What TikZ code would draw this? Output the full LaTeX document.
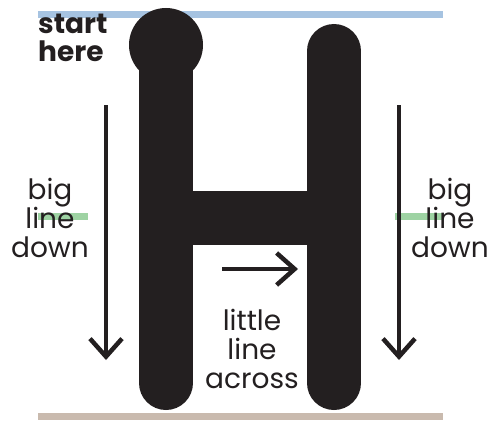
\documentclass[tikz,border=0pt]{standalone}
\usepackage{fontspec}
\setmainfont{Poppins}
\usetikzlibrary{arrows.meta,positioning}
\definecolor{inkblack}{HTML}{231F20}
\definecolor{topblue}{HTML}{A6C3E1}
\definecolor{midgreen}{HTML}{9ED3A3}
\definecolor{basebeige}{HTML}{C9BAAE}
\tikzstyle{guide} = [line width=7pt]
\tikzstyle{bigstroke} = [line width=54pt, draw=inkblack]
\tikzstyle{arrow} = [
    -{Straight Barb[length=18pt, width=32pt, line width=4.5pt]},
    line width=4.5pt,
    draw=inkblack
]
\tikzstyle{label} = [
    align=center,
    inner sep=0pt,
    text=inkblack,
    font=\fontsize{28}{29}\selectfont
]

\begin{document}
\begin{tikzpicture}[x=1pt, y=-1pt]
        \useasboundingbox (0,0) rectangle (494,420);

        % Guide lines
        \draw[guide, topblue] (38,15) -- (443,15);
        \draw[guide, basebeige] (38,416) -- (443,416);
        \draw[guide, midgreen] (38,216) -- (88,216);
        \draw[guide, midgreen] (395,216) -- (443,216);

        % Left stroke with start dot
        \draw[bigstroke, line cap=round] (166,45) -- (166,383);
        \fill[inkblack] (166,45) circle (37);

        % Right stroke
        \draw[bigstroke, line cap=round] (334,51) -- (334,383);

        % Cross bar
        \draw[bigstroke] (166,218) -- (334,218);

        % Arrows
        \coordinate (lefttop) at (106,105);
        \coordinate (leftbot) at (106,360);
        \coordinate (righttop) at (399,105);
        \coordinate (rightbot) at (399,360);
        \coordinate (acrossa) at (222,269);
        \coordinate (acrossb) at (298,269);
        \draw[arrow] (lefttop) -- (leftbot);
        \draw[arrow] (righttop) -- (rightbot);
        \draw[arrow] (acrossa) -- (acrossb);

        % Labels
        \node[label, font=\fontsize{28}{28}\selectfont\bfseries, align=left, anchor=north west] (start) at (38,14) {start\\here};
        \node[label] (leftlabel) at (50,218) {big\\line\\down};
        \node[label] (rightlabel) at (450,218) {big\\line\\down};
        \node[label] (acrosslabel) at (252,349) {little\\line\\across};
    \end{tikzpicture}
\end{document}
